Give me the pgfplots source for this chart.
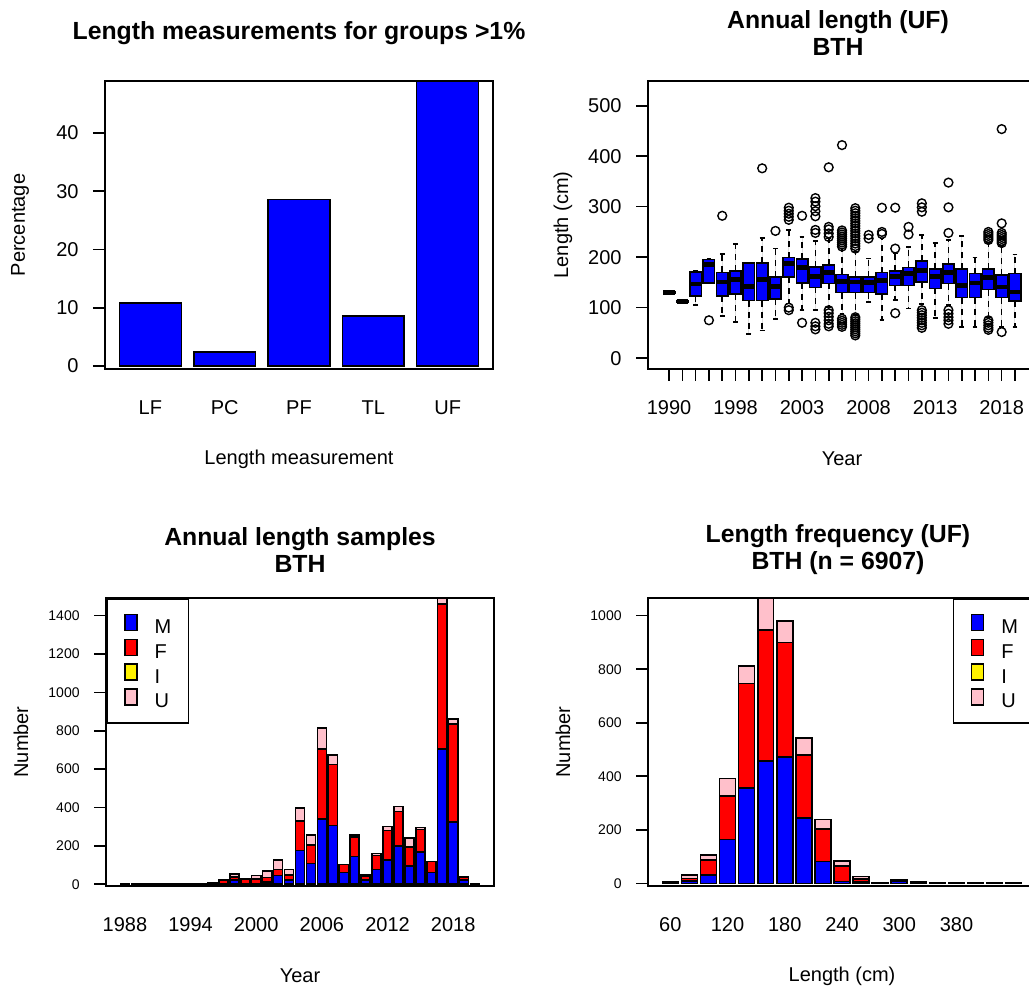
\documentclass[border=0pt]{standalone}
\usepackage{fontspec}
\setmainfont{Liberation Sans}
\usepackage{pgfplots}
\usepackage{pgfplotstable}
\pgfplotsset{compat=1.18}
\usepgfplotslibrary{statistics}
\definecolor{rpink}{RGB}{255,192,203}

\pgfplotstableread{
year M F I U
1988 1 0 0 0
1989 1 0 0 0
1990 1 0 0 0
1991 1 0 0 0
1992 1 0 0 0
1993 1 0 0 0
1994 2 0 0 0
1995 3 1 0 0
1996 4 2 0 0
1997 3 17 0 3
1998 22 17 0 14
1999 5 20 0 3
2000 5 24 0 16
2001 12 24 0 33
2002 45 33 0 49
2003 22 26 0 30
2004 175 155 0 66
2005 109 96 0 52
2006 339 365 0 109
2007 307 318 0 49
2008 61 43 0 0
2009 144 102 0 10
2010 22 22 0 5
2011 78 71 0 12
2012 127 153 0 21
2013 200 179 0 26
2014 96 97 0 47
2015 168 118 0 10
2016 61 57 0 0
2017 705 756 0 30
2018 323 511 0 28
2019 22 14 0 3
2020 1 0 0 0
}\yeartab

\pgfplotstableread{
bin M F I U
1 3 3 0 0
2 8 10 0 14
3 30 57 0 19
4 164 162 0 66
5 356 391 0 65
6 456 491 0 118
7 473 427 0 81
8 245 234 0 65
9 82 122 0 35
10 7 57 0 19
11 4 12 0 10
12 1 0 0 0
13 8 4 0 1
14 3 2 0 0
15 1 0 0 0
16 1 0 0 0
17 1 0 0 0
18 1 0 0 0
19 1 0 0 0
}\lentab

\pgfplotsset{
  rbase/.style={
    scale only axis, width=194pt, height=144pt,
    anchor=south west,
    axis line style={line width=0.8pt},
    every tick/.style={black, line width=0.8pt},
    tick align=outside, major tick length=6pt,
    tick pos=left,
    scaled ticks=false,
    /pgf/number format/1000 sep={},
    /pgf/number format/assume math mode=true,
    tick label style={font=\fontsize{10}{12}\selectfont, inner sep=0pt},
    yticklabel style={anchor=east, xshift=-7pt},
    xticklabel style={anchor=center, yshift=-13.5pt},
    label style={font=\fontsize{10}{12}\selectfont},
    title style={font=\bfseries\fontsize{12.4}{13.5}\selectfont, align=center, at={(0.5,1)}, anchor=center, yshift=18pt},
    every axis y label/.style={at={(rel axis cs:0,0.5)}, xshift=-42.5pt, anchor=center, rotate=90},
    every axis x label/.style={at={(rel axis cs:0.5,0)}, yshift=-45pt, anchor=center},
  },
  rlegend/.style={
    legend cell align=left,
    legend image code/.code={\draw[##1, draw=black, line width=0.8pt] (0pt,-3.25pt) rectangle (7pt,3.25pt);},
    legend style={draw=black, line width=0.8pt, fill=white, inner xsep=8.6pt, inner ysep=7.5pt, row sep=2.5pt,
      font=\fontsize{10}{12}\selectfont, nodes={inner sep=0pt, text height=7pt, text depth=0pt},
      /tikz/every odd column/.append style={column sep=8.5pt}},
  },
  bx/.style={draw=black, fill=blue, line width=0.8pt, solid, mark=o, mark size=2.2pt, mark options={draw=black, fill=none, solid, line width=0.7pt}},
}

\begin{document}
\begin{tikzpicture}
\path[use as bounding box] (0pt,0pt) rectangle (514.5pt,495pt);
\clip (0pt,0pt) rectangle (514.5pt,495pt);

% Panel 1
\begin{axis}[rbase, at={(52.5pt,310.5pt)},
  ybar, bar width=0.8333,
  xmin=-0.61, xmax=4.61, ymin=-0.5, ymax=48.9,
  xtick={0,1,2,3,4}, xticklabels={LF,PC,PF,TL,UF}, xtick style={draw=none},
  ytick={0,10,20,30,40},
  xlabel={Length measurement}, ylabel={Percentage},
  title={Length measurements for groups >1\%}]
\addplot[fill=blue, draw=black, line width=0.8pt] coordinates {(0,10.8) (1,2.4) (2,28.6) (3,8.6) (4,48.9)};
\end{axis}

% Panel 2
\begin{axis}[rbase, at={(324pt,310.5pt)},
  xmin=-0.58, xmax=28.58, ymin=-21.5, ymax=549,
  xtick={1,...,27},
  xticklabels={1990,,,,,1998,,,,,2003,,,,,2008,,,,,2013,,,,,2018,},
  ytick={0,100,200,300,400,500},
  xlabel={Year}, ylabel={Length (cm)},
  title={Annual length (UF)\\BTH},
  title style={xshift=-2pt},
  boxplot/draw direction=y,
  boxplot/box extend=0.86,
  boxplot/whisker extend=0.36,
  boxplot/every median/.style={line width=2.4pt},
  boxplot/draw/lower whisker/.code={%
    \draw[black, line width=0.8pt, dash pattern=on 3pt off 2.5pt]
      (boxplot box cs:\pgfplotsboxplotvalue{lower quartile},0.5) -- (boxplot box cs:\pgfplotsboxplotvalue{lower whisker},0.5);
    \draw[black, line width=0.8pt]
      (boxplot whisker cs:\pgfplotsboxplotvalue{lower whisker},0) -- (boxplot whisker cs:\pgfplotsboxplotvalue{lower whisker},1);
  },
  boxplot/draw/upper whisker/.code={%
    \draw[black, line width=0.8pt, dash pattern=on 3pt off 2.5pt]
      (boxplot box cs:\pgfplotsboxplotvalue{upper quartile},0.5) -- (boxplot box cs:\pgfplotsboxplotvalue{upper whisker},0.5);
    \draw[black, line width=0.8pt]
      (boxplot whisker cs:\pgfplotsboxplotvalue{upper whisker},0) -- (boxplot whisker cs:\pgfplotsboxplotvalue{upper whisker},1);
  },
]
\addplot[bx, boxplot prepared={draw position=1, lower whisker=128, lower quartile=129, median=130.5, upper quartile=132, upper whisker=133}] coordinates {};
\addplot[bx, boxplot prepared={draw position=2, lower whisker=110, lower quartile=111, median=112, upper quartile=113, upper whisker=114}] coordinates {};
\addplot[bx, boxplot prepared={draw position=3, lower whisker=105, lower quartile=123, median=147, upper quartile=171, upper whisker=173}] coordinates {};
\addplot[bx, boxplot prepared={draw position=4, lower whisker=148, lower quartile=149, median=185, upper quartile=195, upper whisker=196}] table[row sep=\\, y index=0] {data\\ 75\\};
\addplot[bx, boxplot prepared={draw position=5, lower whisker=83, lower quartile=122.5, median=151, upper quartile=170, upper whisker=206}] table[row sep=\\, y index=0] {data\\ 282\\};
\addplot[bx, boxplot prepared={draw position=6, lower whisker=71.5, lower quartile=126.5, median=156, upper quartile=173, upper whisker=226}] coordinates {};
\addplot[bx, boxplot prepared={draw position=7, lower whisker=48, lower quartile=114, median=142, upper quartile=188, upper whisker=189}] coordinates {};
\addplot[bx, boxplot prepared={draw position=8, lower whisker=55, lower quartile=114, median=155, upper quartile=189, upper whisker=238}] table[row sep=\\, y index=0] {data\\ 376\\};
\addplot[bx, boxplot prepared={draw position=9, lower whisker=78, lower quartile=117, median=142, upper quartile=161, upper whisker=217}] table[row sep=\\, y index=0] {data\\ 252\\};
\addplot[bx, boxplot prepared={draw position=10, lower whisker=108, lower quartile=161, median=188, upper quartile=199, upper whisker=254}] table[row sep=\\, y index=0] {data\\ 298\\ 292\\ 286\\ 280\\ 274\\ 100\\ 95\\};
\addplot[bx, boxplot prepared={draw position=11, lower whisker=95, lower quartile=149, median=179, upper quartile=196, upper whisker=240}] table[row sep=\\, y index=0] {data\\ 282\\ 70\\};
\addplot[bx, boxplot prepared={draw position=12, lower whisker=95, lower quartile=140, median=162, upper quartile=180, upper whisker=232}] table[row sep=\\, y index=0] {data\\ 317\\ 310\\ 301\\ 291\\ 281\\ 254\\ 248\\ 70\\ 63\\ 57\\};
\addplot[bx, boxplot prepared={draw position=13, lower whisker=101, lower quartile=148, median=169, upper quartile=184, upper whisker=237}] table[row sep=\\, y index=0] {data\\ 378\\ 260\\ 255\\ 247\\ 240\\ 95\\ 89\\ 82\\ 75\\ 68\\ 63\\};
\addplot[bx, boxplot prepared={draw position=14, lower whisker=88, lower quartile=130, median=152, upper quartile=166, upper whisker=217}] table[row sep=\\, y index=0] {data\\ 422\\ 253\\ 249\\ 245\\ 241\\ 237\\ 233\\ 229\\ 225\\ 221\\ 78\\ 74\\ 70\\ 66\\ 62\\};
\addplot[bx, boxplot prepared={draw position=15, lower whisker=85, lower quartile=130, median=151, upper quartile=161, upper whisker=210}] table[row sep=\\, y index=0] {data\\ 297\\ 292\\ 287\\ 282\\ 277\\ 272\\ 267\\ 262\\ 257\\ 252\\ 247\\ 242\\ 237\\ 232\\ 227\\ 222\\ 217\\ 81\\ 77\\ 73\\ 69\\ 65\\ 61\\ 57\\ 53\\ 49\\ 45\\};
\addplot[bx, boxplot prepared={draw position=16, lower whisker=111, lower quartile=130, median=150, upper quartile=161, upper whisker=197}] table[row sep=\\, y index=0] {data\\ 244\\ 237\\};
\addplot[bx, boxplot prepared={draw position=17, lower whisker=76, lower quartile=126.5, median=154, upper quartile=169.5, upper whisker=237}] table[row sep=\\, y index=0] {data\\ 298\\ 250\\ 246\\};
\addplot[bx, boxplot prepared={draw position=18, lower whisker=114.6, lower quartile=144, median=161, upper quartile=173, upper whisker=207}] table[row sep=\\, y index=0] {data\\ 298\\ 217\\ 89\\};
\addplot[bx, boxplot prepared={draw position=19, lower whisker=98, lower quartile=144, median=167.6, upper quartile=179.6, upper whisker=220.5}] table[row sep=\\, y index=0] {data\\ 260\\ 245\\};
\addplot[bx, boxplot prepared={draw position=20, lower whisker=107, lower quartile=151, median=174, upper quartile=192.7, upper whisker=243.7}] table[row sep=\\, y index=0] {data\\ 306.7\\ 298.7\\ 290\\ 95\\ 90\\ 85\\ 80\\ 75\\ 70\\ 65\\ 60\\};
\addplot[bx, boxplot prepared={draw position=21, lower whisker=80, lower quartile=138, median=161, upper quartile=176, upper whisker=228.5}] coordinates {};
\addplot[bx, boxplot prepared={draw position=22, lower whisker=105, lower quartile=147.8, median=169, upper quartile=186, upper whisker=233.8}] table[row sep=\\, y index=0] {data\\ 347.7\\ 298.7\\ 248\\ 95\\ 88\\ 81\\ 75\\ 68\\};
\addplot[bx, boxplot prepared={draw position=23, lower whisker=61.6, lower quartile=120, median=144.4, upper quartile=176, upper whisker=241.7}] coordinates {};
\addplot[bx, boxplot prepared={draw position=24, lower whisker=61.6, lower quartile=120, median=149, upper quartile=167.6, upper whisker=199.4}] coordinates {};
\addplot[bx, boxplot prepared={draw position=25, lower whisker=81.5, lower quartile=135.8, median=159.7, upper quartile=176, upper whisker=228}] table[row sep=\\, y index=0] {data\\ 250\\ 246\\ 242\\ 238\\ 234\\ 75\\ 70\\ 65\\ 60\\ 56\\};
\addplot[bx, boxplot prepared={draw position=26, lower whisker=61.6, lower quartile=120, median=141, upper quartile=164.3, upper whisker=222}] table[row sep=\\, y index=0] {data\\ 453.7\\ 267\\ 248\\ 244\\ 240\\ 236\\ 232\\ 228\\ 51.7\\};
\addplot[bx, boxplot prepared={draw position=27, lower whisker=61.6, lower quartile=113, median=131, upper quartile=167.6, upper whisker=205.4}] coordinates {};
\end{axis}

% Panel 3
\begin{axis}[rbase, rlegend, at={(53pt,52pt)},
  ybar stacked, bar width=0.8333,
  xmin=1986.27, xmax=2021.73, ymin=-9, ymax=1492,
  xtick={1988,1994,2000,2006,2012,2018}, xticklabels={1988,1994,2000,2006,2012,2018},
  xtick style={draw=none},
  ytick={0,200,...,1400}, yticklabel style={font=\fontsize{7}{8}\selectfont},
  xlabel={Year}, ylabel={Number},
  title={Annual length samples\\BTH},
  legend style={at={(0,1)}, anchor=north west}]
\addplot[fill=blue, draw=black, line width=0.8pt] table[x=year, y=M] {\yeartab};
\addplot[fill=red, draw=black, line width=0.8pt] table[x=year, y=F] {\yeartab};
\addplot[fill=yellow, draw=black, line width=0.8pt] table[x=year, y=I] {\yeartab};
\addplot[fill=rpink, draw=black, line width=0.8pt] table[x=year, y=U] {\yeartab};
\legend{M,F,I,U}
\end{axis}

% Panel 4
\begin{axis}[rbase, rlegend, at={(324pt,52pt)},
  ybar stacked, bar width=0.8333,
  xmin=-0.17, xmax=20.17, ymin=-10, ymax=1066,
  xtick={1,4,7,10,13,16}, xticklabels={60,120,180,240,300,380},
  xtick style={draw=none},
  ytick={0,200,...,1000}, yticklabel style={font=\fontsize{7}{8}\selectfont},
  xlabel={Length (cm)}, ylabel={Number},
  title={Length frequency (UF)\\BTH (n = 6907)},
  title style={xshift=-2pt},
  legend style={at={(1,1)}, anchor=north east}]
\addplot[fill=blue, draw=black, line width=0.8pt] table[x=bin, y=M] {\lentab};
\addplot[fill=red, draw=black, line width=0.8pt] table[x=bin, y=F] {\lentab};
\addplot[fill=yellow, draw=black, line width=0.8pt] table[x=bin, y=I] {\lentab};
\addplot[fill=rpink, draw=black, line width=0.8pt] table[x=bin, y=U] {\lentab};
\legend{M,F,I,U}
\end{axis}
\end{tikzpicture}
\end{document}
